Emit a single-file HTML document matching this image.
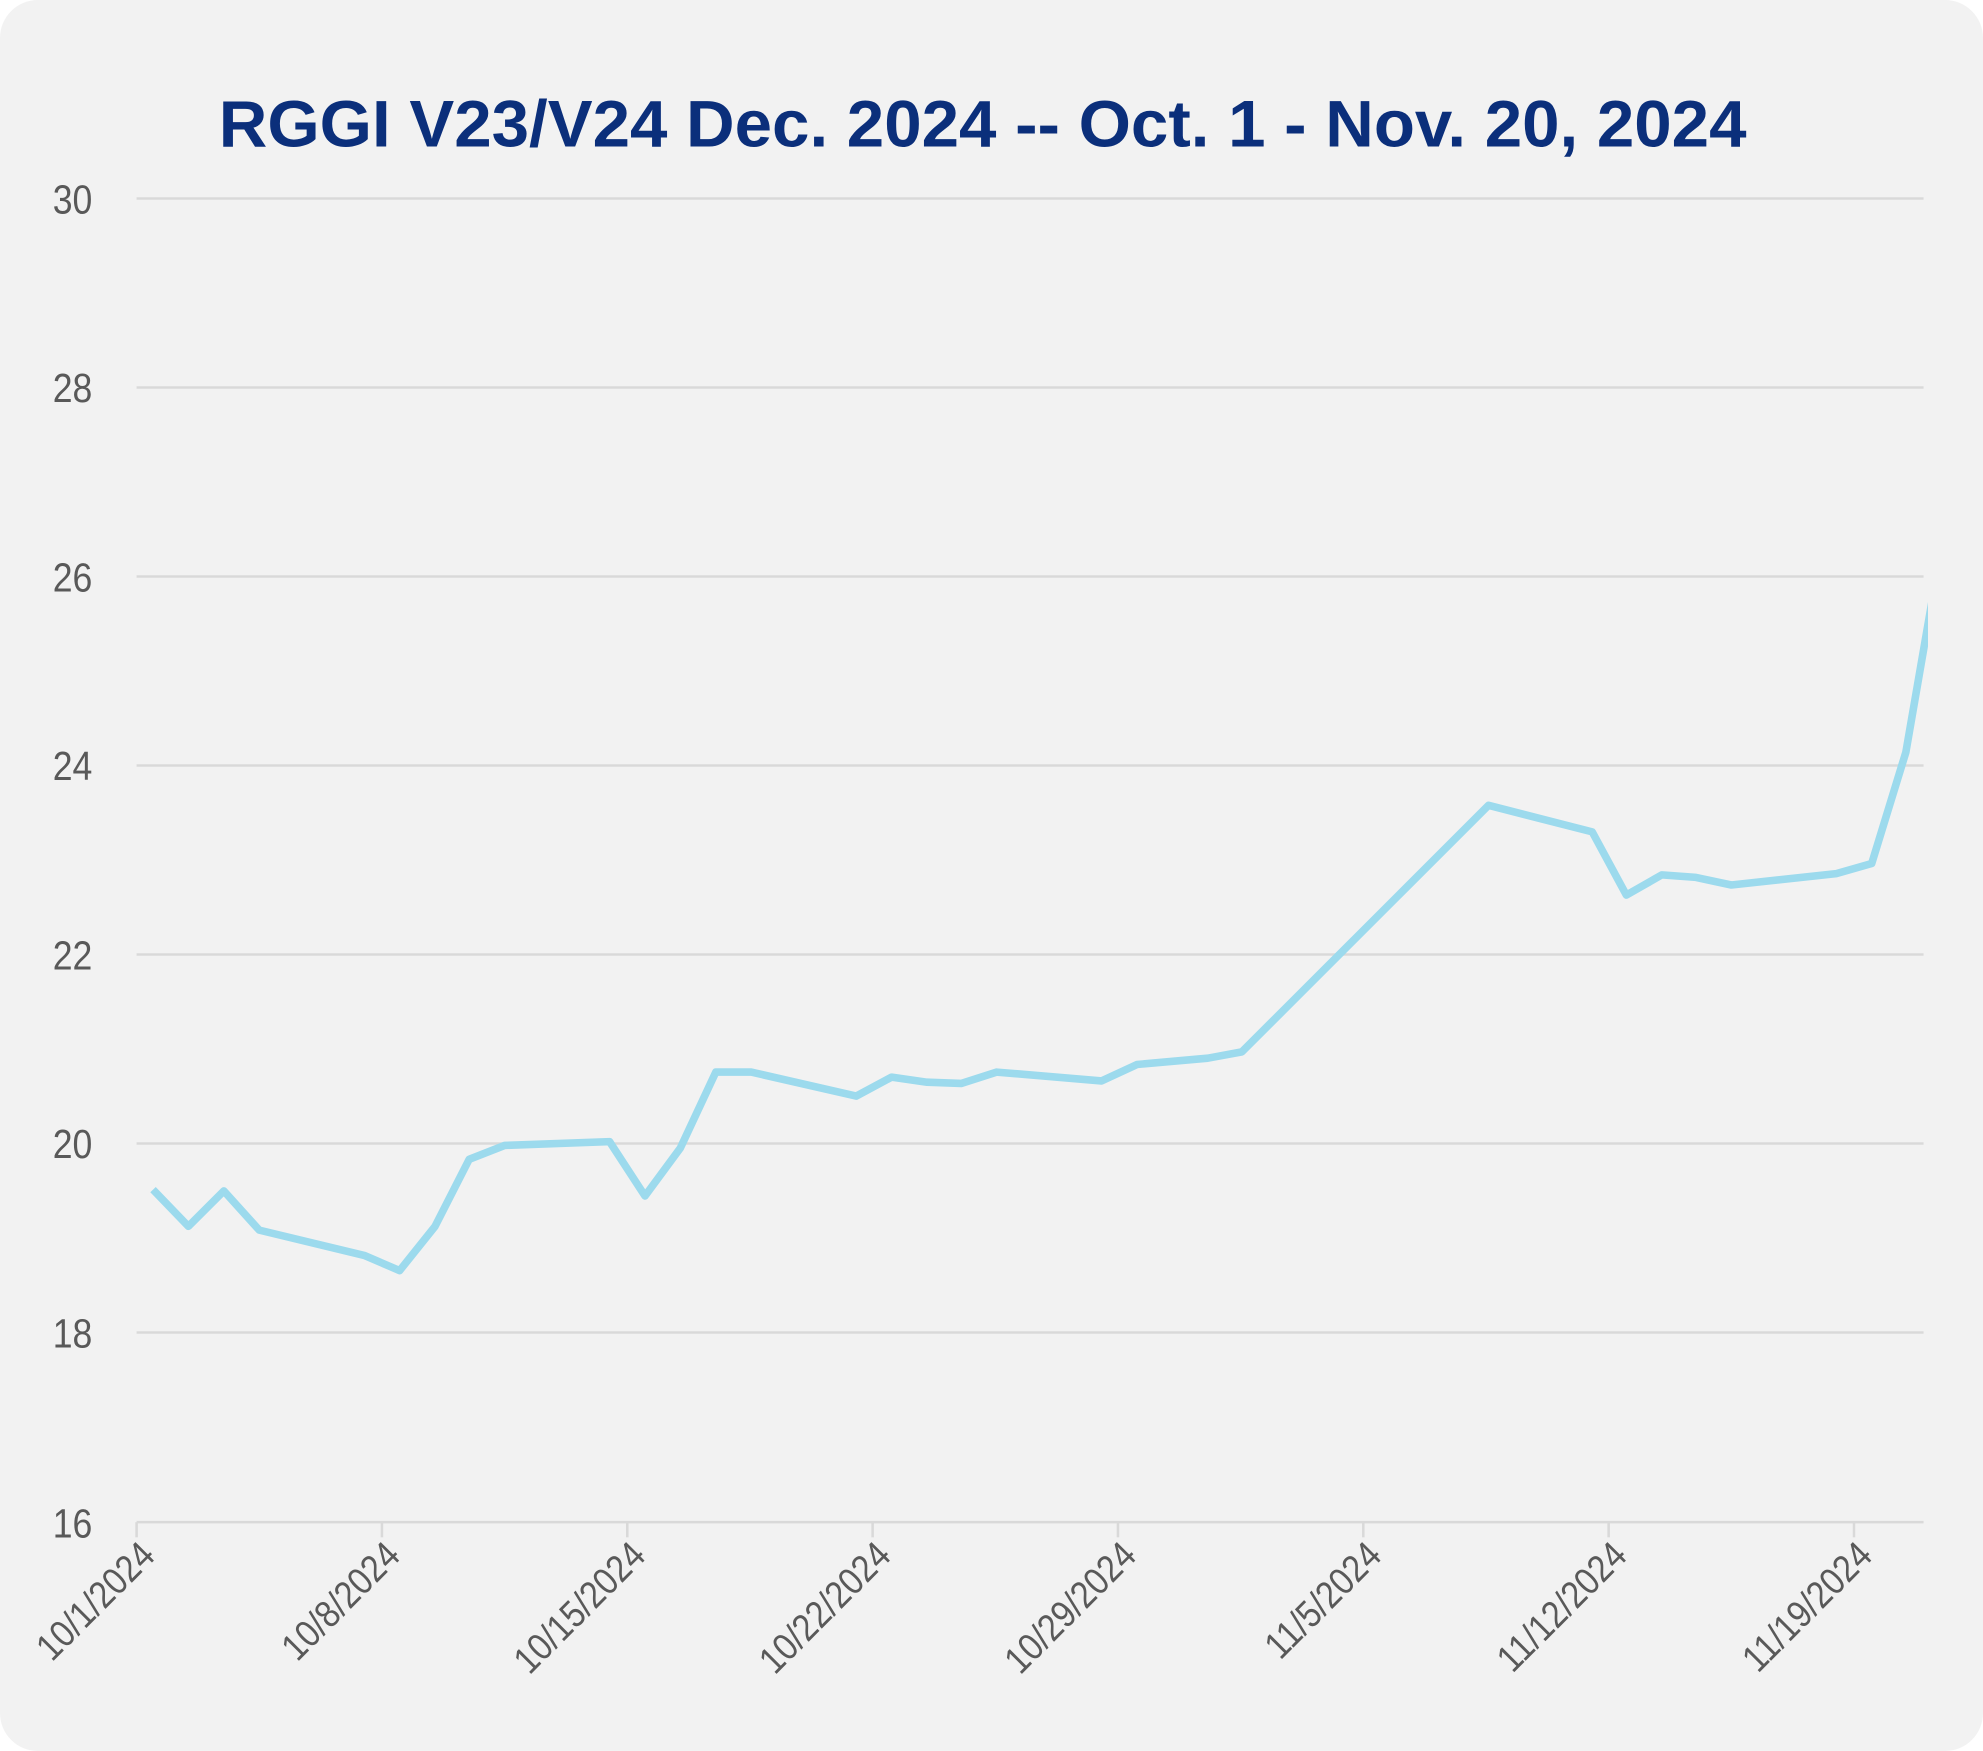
<!DOCTYPE html>
<html><head><meta charset="utf-8"><style>
html,body{margin:0;padding:0;background:#fff;}
svg{display:block;}
</style></head><body>
<svg width="1983" height="1751" viewBox="0 0 1568 1385" preserveAspectRatio="none" xmlns="http://www.w3.org/2000/svg">
<defs><clipPath id="c"><rect x="100" y="140" width="1424.5" height="1070"/></clipPath></defs>
<rect x="0" y="0" width="1568" height="1385" rx="30" ry="30" fill="#f2f2f2"/>
<text x="777" y="116" text-anchor="middle" font-family="'Liberation Sans',sans-serif" font-weight="bold" font-size="52" fill="#0b2f7b" textLength="1208" lengthAdjust="spacingAndGlyphs">RGGI V23/V24 Dec. 2024 -- Oct. 1 - Nov. 20, 2024</text>
<g stroke="#d9d9d9" stroke-width="2">
<line x1="108" y1="157" x2="1521" y2="157"/>
<line x1="108" y1="306.5" x2="1521" y2="306.5"/>
<line x1="108" y1="456" x2="1521" y2="456"/>
<line x1="108" y1="605.5" x2="1521" y2="605.5"/>
<line x1="108" y1="755" x2="1521" y2="755"/>
<line x1="108" y1="904.5" x2="1521" y2="904.5"/>
<line x1="108" y1="1054" x2="1521" y2="1054"/>
<line x1="108" y1="1204" x2="1521" y2="1204"/>
<line x1="108" y1="1204" x2="108" y2="1216"/>
<line x1="302" y1="1204" x2="302" y2="1216"/>
<line x1="496" y1="1204" x2="496" y2="1216"/>
<line x1="690" y1="1204" x2="690" y2="1216"/>
<line x1="884" y1="1204" x2="884" y2="1216"/>
<line x1="1078" y1="1204" x2="1078" y2="1216"/>
<line x1="1272" y1="1204" x2="1272" y2="1216"/>
<line x1="1466" y1="1204" x2="1466" y2="1216"/>
</g>
<g font-family="'Liberation Sans',sans-serif" font-size="32" fill="#595959" text-anchor="end">
<text transform="translate(73,169) scale(0.88,1)">30</text>
<text transform="translate(73,318) scale(0.88,1)">28</text>
<text transform="translate(73,468) scale(0.88,1)">26</text>
<text transform="translate(73,617) scale(0.88,1)">24</text>
<text transform="translate(73,767) scale(0.88,1)">22</text>
<text transform="translate(73,916) scale(0.88,1)">20</text>
<text transform="translate(73,1066) scale(0.88,1)">18</text>
<text transform="translate(73,1216) scale(0.88,1)">16</text>
</g>
<g font-family="'Liberation Sans',sans-serif" font-size="30" fill="#595959" text-anchor="end">
<text transform="translate(124,1232) rotate(-45) scale(0.88,1)">10/1/2024</text>
<text transform="translate(318,1232) rotate(-45) scale(0.88,1)">10/8/2024</text>
<text transform="translate(512,1232) rotate(-45) scale(0.88,1)">10/15/2024</text>
<text transform="translate(706,1232) rotate(-45) scale(0.88,1)">10/22/2024</text>
<text transform="translate(900,1232) rotate(-45) scale(0.88,1)">10/29/2024</text>
<text transform="translate(1094,1232) rotate(-45) scale(0.88,1)">11/5/2024</text>
<text transform="translate(1288,1232) rotate(-45) scale(0.88,1)">11/12/2024</text>
<text transform="translate(1482,1232) rotate(-45) scale(0.88,1)">11/19/2024</text>
</g>
<polyline clip-path="url(#c)" fill="none" stroke="#9cdaed" stroke-width="6" stroke-linejoin="round" points="121,941 149,970 177,942 205,973 288,993 316,1005 344,970 371,917 399,906 482,903 510,946 538,908 566,848 594,848 677,867 705,852 733,856 760,857 788,848 871,855 899,842 955,837 982,832 1177,637 1259,658 1286,708 1314,692 1341,694 1369,700 1452,691 1480,683 1507,595 1530,462"/>
</svg>
</body></html>
